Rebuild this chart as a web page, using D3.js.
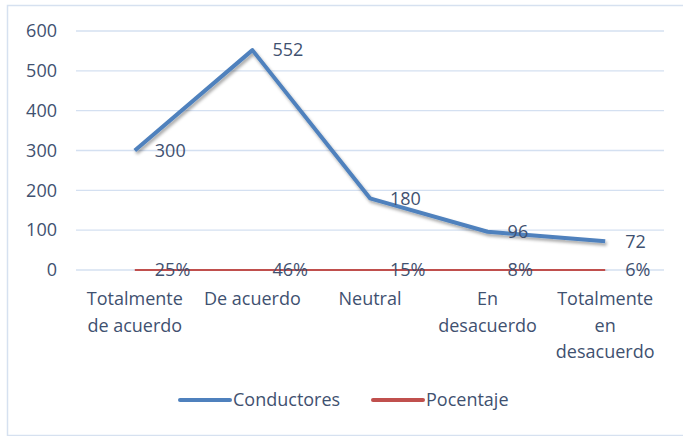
<!DOCTYPE html>
<html>
<head>
<meta charset="utf-8">
<script src="https://cdn.jsdelivr.net/npm/d3@7"></script>
<style>
  body { margin: 0; background: #fff; }
  text { font-family: "Open Sans", Lato, sans-serif; fill: #3f5170; }
</style>
</head>
<body>
<div id="chart"></div>
<script>
// chart values
const categories = [["Totalmente", "de acuerdo"], ["De acuerdo"], ["Neutral"], ["En", "desacuerdo"], ["Totalmente", "en", "desacuerdo"]];
const conductores = [300, 552, 180, 96, 72];
const porcentaje = [0.25, 0.46, 0.15, 0.08, 0.06];
const porcentajeLabels = ["25%", "46%", "15%", "8%", "6%"];
const yTicks = [0, 100, 200, 300, 400, 500, 600];
const seriesNames = ["Conductores", "Pocentaje"];

const width = 683, height = 436;
const plot = {left: 76, right: 664, top: 31, bottom: 270};
const fontSize = 18;

const svg = d3.select("#chart").append("svg")
    .attr("width", width)
    .attr("height", height);

// outer frame
svg.append("rect")
    .attr("x", 7.5).attr("y", 5.5)
    .attr("width", 700).attr("height", 430)
    .attr("fill", "none")
    .attr("stroke", "#d6e1f0")
    .attr("stroke-width", 1.5);

const defs = svg.append("defs");
const shadow = defs.append("filter").attr("id", "shadow")
    .attr("x", "-10%").attr("y", "-10%").attr("width", "120%").attr("height", "130%");
shadow.append("feDropShadow")
    .attr("dx", 1.5).attr("dy", 2.5).attr("stdDeviation", 1.5)
    .attr("flood-color", "#000").attr("flood-opacity", 0.35);

const x = d3.scaleBand()
    .domain(d3.range(categories.length))
    .range([plot.left, plot.right]);

const y = d3.scaleLinear()
    .domain([0, 600])
    .range([plot.bottom, plot.top]);

// gridlines
svg.append("g")
    .selectAll("line")
    .data(yTicks)
    .join("line")
    .attr("x1", x.range()[0])
    .attr("x2", x.range()[1])
    .attr("y1", d => y(d))
    .attr("y2", d => y(d))
    .attr("stroke", "#d4e0f1")
    .attr("stroke-width", 1.3);

// y axis labels
svg.append("g")
    .selectAll("text")
    .data(yTicks)
    .join("text")
    .attr("x", 57)
    .attr("y", d => y(d))
    .attr("dy", "0.35em")
    .attr("text-anchor", "end")
    .attr("font-size", fontSize)
    .text(d => d);

// x axis labels
const xl = svg.append("g")
    .selectAll("text")
    .data(categories)
    .join("text")
    .attr("text-anchor", "middle")
    .attr("font-size", fontSize);
xl.each(function(lines, i) {
    d3.select(this).selectAll("tspan")
        .data(lines)
        .join("tspan")
        .attr("x", x(i) + x.bandwidth() / 2)
        .attr("y", (d, j) => 305 + j * 26.5)
        .text(d => d);
});

const cx = i => x(i) + x.bandwidth() / 2;

const line = d3.line()
    .x((d, i) => cx(i))
    .y(d => y(d));

// Porcentaje series (tiny values, sits on the baseline)
svg.append("path")
    .datum(porcentaje)
    .attr("d", line)
    .attr("fill", "none")
    .attr("stroke", "#c0504d")
    .attr("stroke-width", 3)
    .attr("filter", "url(#shadow)");

// Conductores series
svg.append("path")
    .datum(conductores)
    .attr("d", line)
    .attr("fill", "none")
    .attr("stroke", "#4f81bd")
    .attr("stroke-width", 4)
    .attr("stroke-linejoin", "round")
    .attr("filter", "url(#shadow)");

// data labels
svg.append("g")
    .selectAll("text")
    .data(conductores)
    .join("text")
    .attr("x", (d, i) => cx(i) + 20)
    .attr("y", d => y(d))
    .attr("dy", "0.35em")
    .attr("font-size", fontSize)
    .text(d => d);

svg.append("g")
    .selectAll("text")
    .data(porcentaje)
    .join("text")
    .attr("x", (d, i) => cx(i) + 20)
    .attr("y", d => y(d))
    .attr("dy", "0.35em")
    .attr("font-size", fontSize)
    .text((d, i) => porcentajeLabels[i]);

// legend
const legendX = [180, 373];
const colors = ["#4f81bd", "#c0504d"];
const lg = svg.append("g")
    .selectAll("g")
    .data(seriesNames)
    .join("g")
    .attr("transform", (d, i) => `translate(${legendX[i]},400)`);
lg.append("line")
    .attr("x1", 0).attr("x2", 50)
    .attr("stroke", (d, i) => colors[i])
    .attr("stroke-width", 4)
    .attr("stroke-linecap", "round");
lg.append("text")
    .attr("x", 53)
    .attr("dy", "0.35em")
    .attr("font-size", fontSize)
    .text(d => d);
</script>
</body>
</html>
